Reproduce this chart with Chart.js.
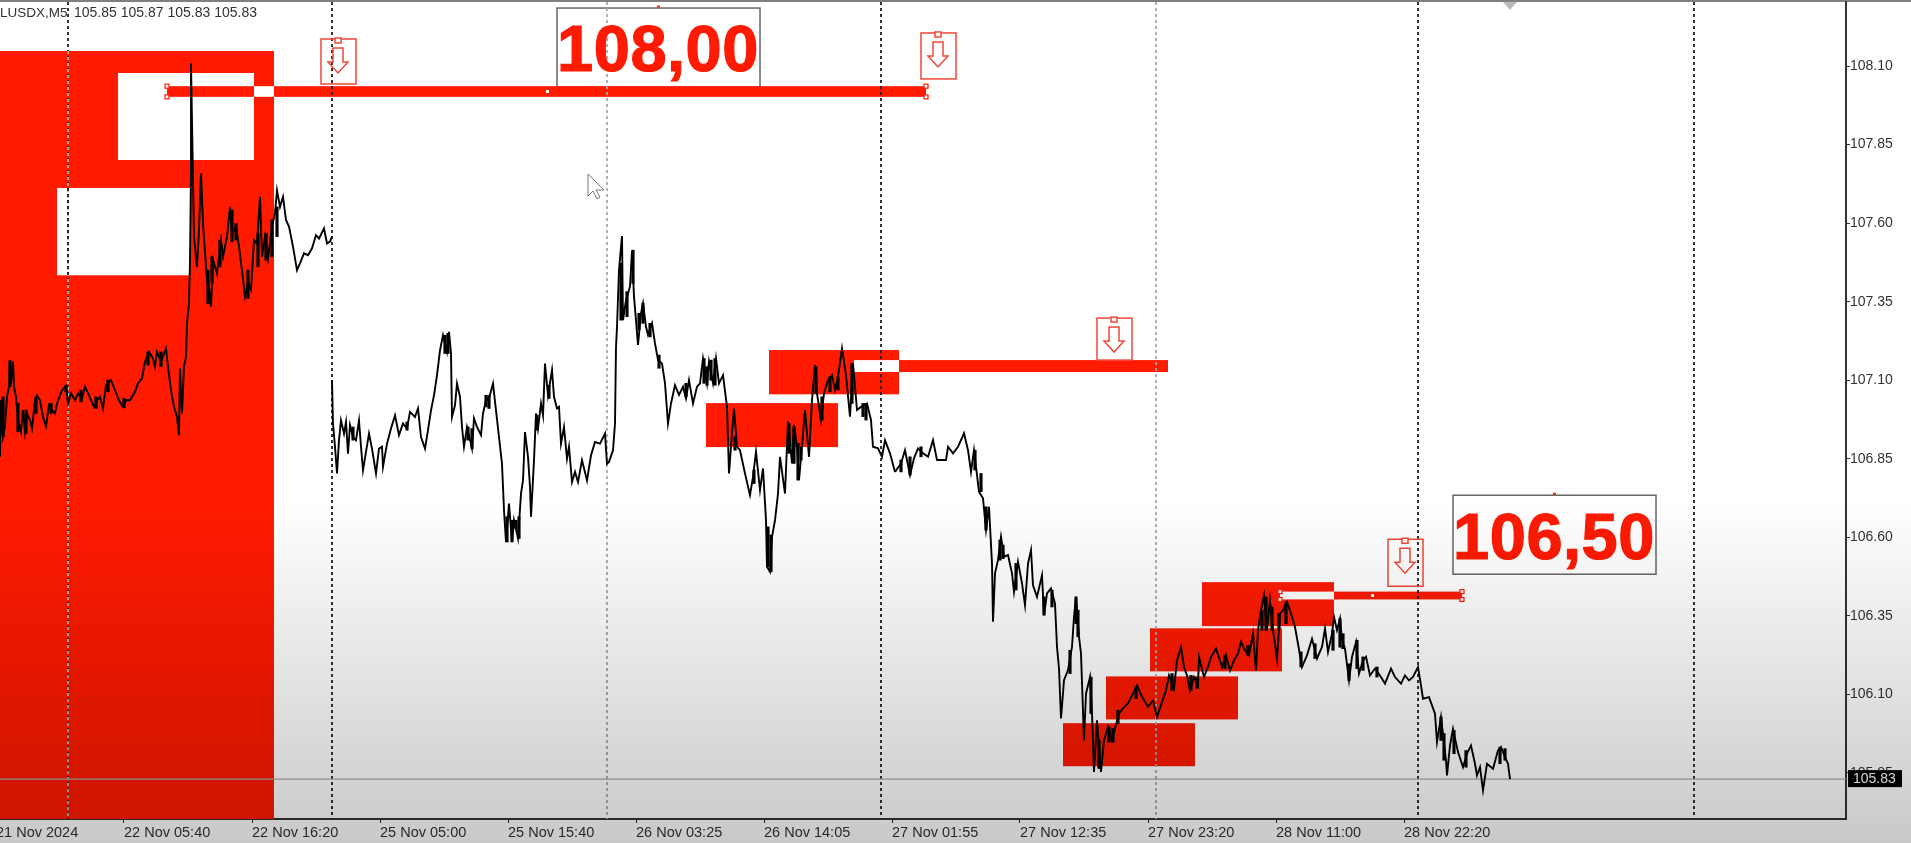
<!DOCTYPE html>
<html>
<head>
<meta charset="utf-8">
<title>USDX M5</title>
<script src="https://cdn.jsdelivr.net/npm/chart.js@4/dist/chart.umd.js"></script>
<style>
  html, body { margin: 0; padding: 0; background: #fff; overflow: hidden; }
  canvas { display: block; filter: blur(0.45px); }
</style>
</head>
<body>
<canvas id="chart" width="1911" height="843"></canvas>
<script>
// Prices. One bar on the x axis = one M5 candle.
const bars21 = [4,5,7,9,11,13,14,15,17,18,20,22,25,27,29,31,34,36,39,41,44,47,50,53,56,59,61,66,70,72,75,79,82,86,89,93,98,101,104,107,110,115,119,123,127,130,134,139,142,146,149,153,157,159,161,165,170,172,175,178,181,183,184,186,188,190,191,193,194,195,195,198,201,203,205,207,211,213,215,217,221,225,227,231,234,236,240,243,246,249,252,255,258,261,264,266,269,272,276,279,281,284,287,290,293,297,301,304,308,312,316,320,323,328,331,334,336];
const prices21 = [106.856,107.036,106.920,106.951,107.047,107.079,107.162,107.090,107.159,107.079,107.047,106.973,106.936,107.005,106.936,106.994,106.973,106.946,107.036,107.052,107.036,106.983,106.954,107.021,107.005,106.994,107.026,107.068,107.081,107.026,107.058,107.036,107.058,107.042,107.079,107.052,107.015,107.036,107.047,107.010,107.084,107.100,107.068,107.036,107.015,107.036,107.036,107.063,107.090,107.105,107.159,107.190,107.169,107.143,107.190,107.159,107.201,107.143,107.068,107.015,106.983,106.925,107.137,106.994,107.143,107.174,107.281,107.344,107.482,107.769,108.109,107.557,107.461,107.578,107.758,107.599,107.419,107.397,107.334,107.482,107.440,107.546,107.493,107.557,107.652,107.567,107.589,107.525,107.450,107.366,107.408,107.387,107.546,107.535,107.684,107.493,107.557,107.488,107.589,107.631,107.705,107.652,107.684,107.610,107.589,107.525,107.450,107.472,107.504,107.498,107.520,107.562,107.551,107.583,107.535,107.541,107.557];

const bars25 = [336,337,339,341,343,345,348,350,352,354,357,360,363,365,367,370,373,376,380,383,386,387,391,395,399,403,407,411,414,419,422,425,429,432,435,438,441,444,447,451,453,455,456,459,461,464,466,468,471,473,476,478,481,485,487,490,493,497,500,503,506,508,510,513,516,518,522,525,527,529,532,534,535,538,540,542,545,547,549,552,556,558,561,563,565,568,571,573,576,579,582,586,591,595,599,604,609,611,613,617,619,620];
const prices25 = [107.100,106.962,106.888,106.803,106.909,106.972,106.930,106.967,106.866,106.957,106.919,106.909,106.972,106.888,106.813,106.872,106.930,106.882,106.803,106.882,106.888,106.824,106.898,106.946,106.988,106.925,106.962,106.946,106.999,106.983,107.010,106.919,106.882,106.941,107.004,107.052,107.116,107.195,107.243,107.190,107.254,107.185,106.983,107.020,107.089,107.047,106.951,106.888,106.951,106.925,106.882,106.978,106.951,106.925,106.994,107.036,107.042,107.089,107.004,106.919,106.834,106.686,106.585,106.707,106.585,106.654,106.596,106.739,106.781,106.935,106.856,106.760,106.665,106.845,106.994,106.946,107.026,106.988,107.153,107.052,107.132,107.047,107.010,107.015,106.898,106.951,106.850,106.888,106.776,106.808,106.776,106.845,106.781,106.861,106.903,106.898,106.930,106.834,106.840,106.877,106.962,107.206];

const bars26 = [621,623,626,627,630,632,634,636,638,640,642,645,647,650,652,656,659,662,666,669,672,675,679,683,687,690,693,697,701,704,707,711,713,717,720,723,727,731,733,736,738,741,744,749,754,757,760,764,767,770,771,774,776,779,782,784,789,792,796,798,801,803,806,809,813,816,819,821,825,828,832,836,839,842,846,850,854,857,861,865,871,875,877,882,886,889,894,899];
const prices26 = [107.270,107.451,107.559,107.291,107.355,107.376,107.398,107.512,107.366,107.291,107.212,107.313,107.345,107.270,107.244,107.281,107.217,107.164,107.153,107.090,106.962,107.026,107.084,107.053,107.079,107.042,107.100,107.026,107.079,107.090,107.169,107.090,107.159,107.090,107.169,107.090,107.116,107.015,106.803,106.931,107.010,106.888,106.877,106.803,106.734,106.792,106.872,106.750,106.819,106.654,106.506,106.490,106.601,106.654,106.739,106.856,106.739,106.968,106.835,106.957,106.888,106.782,106.888,107.005,106.856,107.037,107.148,107.058,106.973,107.058,107.100,107.116,107.069,107.111,107.201,107.116,106.984,107.153,107.005,107.015,107.026,106.973,106.888,106.883,106.856,106.909,106.867,106.808];

const bars27 = [905,909,914,918,922,927,932,937,941,946,950,952,957,962,968,972,975,978,983,987,990,993,996,997,999,1002,1005,1008,1012,1016,1018,1022,1026,1029,1032,1035,1037,1041,1046,1048,1051,1055,1059,1061,1063,1065,1068,1072,1076,1078,1080,1083,1085,1088,1090,1094,1096,1098,1101,1105,1108,1112,1116,1119,1123,1127,1132,1137,1141,1146,1152,1157];
const prices27 = [106.835,106.877,106.798,106.851,106.883,106.867,106.856,106.909,106.846,106.846,106.846,106.888,106.867,106.888,106.931,106.877,106.808,106.877,106.745,106.724,106.623,106.697,106.516,106.331,106.485,106.527,106.601,106.538,106.543,106.485,106.426,106.522,106.453,106.384,106.516,106.559,106.447,106.410,106.479,106.352,106.421,106.437,106.389,106.251,106.182,106.023,106.145,106.177,106.251,106.347,106.410,106.283,106.230,105.954,106.102,106.155,106.039,105.853,106.017,105.853,105.954,105.996,105.954,105.991,106.039,106.055,106.071,106.102,106.129,106.092,106.060,106.081];

const bars28 = [1161,1166,1170,1173,1178,1181,1185,1188,1191,1194,1198,1202,1203,1208,1212,1215,1220,1224,1226,1230,1234,1238,1242,1245,1249,1253,1257,1260,1262,1265,1268,1271,1274,1277,1281,1284,1287,1291,1295,1299,1302,1306,1311,1316,1321,1326,1329,1332,1336,1338,1341,1344,1346,1349,1353,1356,1360,1363,1367,1370,1374,1379,1384,1389,1395,1399,1405,1409,1413,1417,1422,1425,1427,1433,1439,1441,1445,1450,1451,1454,1457,1462,1467,1471,1475,1479,1481,1484,1487,1491,1497,1502,1505,1509,1512,1514];
const prices28 = [106.028,106.075,106.113,106.160,106.118,106.208,106.251,106.187,106.160,106.113,106.155,106.129,106.219,106.155,106.187,106.219,106.245,106.208,106.187,106.224,106.176,106.208,106.229,106.267,106.240,106.224,106.293,106.176,106.304,106.367,106.415,106.304,106.399,106.304,106.214,106.357,106.367,106.394,106.357,106.314,106.261,106.187,106.224,106.277,106.214,106.251,106.309,106.235,106.293,106.346,106.304,106.341,106.272,106.245,106.144,106.219,106.266,106.166,106.208,106.219,106.160,106.182,106.160,106.134,106.182,106.155,106.134,106.160,106.144,106.155,106.187,106.128,106.086,106.091,106.038,105.948,106.028,105.890,105.842,105.937,105.990,105.916,105.868,105.911,105.937,105.879,105.842,105.868,105.794,105.879,105.863,105.921,105.932,105.900,105.879,105.830];

// high/low ranges of the places where the candles pile up into black blobs
const wickBars = [7,14,22,30,40,55,70,85,100,112,128,152,165,212,216,224,236,240,252,262,270,276,281,357,411,449,452,472,476,490,493,511,516,520,523,541,553,625,631,637,643,647,654,663,690,708,711,715,719,739,758,772,775,793,798,802,805,820,826,834,842,856,867,870,905,914,925,979,985,990,1004,1007,1020,1048,1056,1074,1080,1082,1095,1103,1113,1117,1122,1140,1176,1195,1201,1229,1252,1266,1270,1276,1283,1290,1305,1319,1337,1344,1347,1353,1361,1367,1381,1445,1448,1458,1470,1504,1509];
const wickHigh = [107.047,107.162,107.026,107.005,107.047,107.026,107.084,107.068,107.047,107.100,107.042,107.190,107.190,107.450,107.493,107.546,107.642,107.599,107.450,107.567,107.567,107.610,107.652,106.951,106.967,107.243,107.249,106.951,106.946,107.052,107.052,106.665,106.654,106.654,106.665,106.988,107.084,107.472,107.382,107.514,107.313,107.345,107.281,107.180,107.090,107.169,107.143,107.164,107.169,106.920,106.814,106.633,106.607,106.962,106.952,106.899,106.888,107.143,107.047,107.111,107.111,107.153,107.026,107.026,106.846,106.856,106.888,106.877,106.803,106.697,106.591,106.575,106.517,106.410,106.431,106.240,106.410,106.368,106.155,105.954,105.996,105.991,106.049,106.123,106.166,106.160,106.155,106.224,106.256,106.367,106.410,106.378,106.357,106.394,106.235,106.261,106.304,106.341,106.293,106.197,106.272,106.219,106.187,106.028,105.975,105.985,105.921,105.932,105.927];
const wickLow = [106.920,107.079,106.936,106.930,106.994,106.994,107.063,107.031,107.010,107.063,107.013,107.148,107.143,107.344,107.408,107.461,107.541,107.546,107.360,107.461,107.482,107.493,107.557,106.909,106.941,107.185,107.185,106.909,106.882,107.015,107.010,106.585,106.585,106.627,106.596,106.941,107.042,107.291,107.302,107.408,107.260,107.281,107.238,107.138,107.047,107.090,107.084,107.100,107.084,106.877,106.771,106.506,106.490,106.867,106.835,106.782,106.846,107.058,106.973,107.063,107.069,107.026,106.984,106.973,106.808,106.798,106.856,106.814,106.745,106.623,106.527,106.532,106.432,106.352,106.378,106.166,106.325,106.283,106.039,105.864,105.948,105.948,106.007,106.086,106.113,106.113,106.118,106.182,106.224,106.304,106.304,106.304,106.309,106.325,106.187,106.214,106.240,106.250,106.245,106.144,106.182,106.176,106.155,105.953,105.890,105.911,105.868,105.879,105.890];

const yMin = 105.703;
const yMax = 108.304;
const xMin = 4;
const xMax = 1850;
const lastPrice = 105.83;

const yTicks = [108.10,107.85,107.60,107.35,107.10,106.85,106.60,106.35,106.10,105.85];
const xTicks = [0,128,256,384,512,640,768,896,1024,1152,1280,1408];
const xLabels = ['21 Nov 2024','22 Nov 05:40','22 Nov 16:20','25 Nov 05:00','25 Nov 15:40','26 Nov 03:25','26 Nov 14:05','27 Nov 01:55','27 Nov 12:35','27 Nov 23:20','28 Nov 11:00','28 Nov 22:20'];

// day separators
const sepBars = [72,336,611,885,1160,1422,1698];
const sepGrey = [false,false,true,false,true,false,false];

// red zones: first one is the big block down to the bottom of the chart
const zoneFrom = [4,773,710,1067,1110,1154,1206];
const zoneTo = [278,903,842,1199,1242,1286,1338];
const zoneTop = [108.148,107.196,107.027,106.008,106.157,106.310,106.457];
const zoneBottom = [yMin,107.055,106.887,105.871,106.020,106.173,106.317];

// white cut outs in the big block
const holeFrom = [122,61];
const holeTo = [258,194];
const holeTop = [108.078,107.712];
const holeBottom = [107.801,107.434];

// horizontal level bars
const levelFrom = [171,903,1338];
const levelTo = [930,1172,1466];
const levelTop = [108.036,107.164,106.427];
const levelBottom = [108.002,107.126,106.402];

// part of each level where it runs over a red zone and turns white
const gapFrom = [258,858,1284];
const gapTo = [278,903,1338];

// sell arrows, anchored at the bottom of the small box
const arrowBars = [342,942,1118,1409];
const arrowPrices = [108.043,108.059,107.164,106.444];

const boxTexts = ['108,00','106,50'];
const boxBars = [662,1558];
const boxPrices = [108.159,106.608];

const headerText = 'LUSDX,M5';
const headerOhlc = ['105.85','105.87','105.83','105.83'];

const RED = '#ff1a00';
const FONT = '"Liberation Sans", Arial, sans-serif';

function toPoints(xs, ys) {
    return xs.map((x, i) => ({ x: x, y: ys[i] }));
}

function fillBox(ctx, sx, sy, from, to, top, bottom, color) {
    const x1 = sx.getPixelForValue(from);
    const x2 = sx.getPixelForValue(to);
    const y1 = sy.getPixelForValue(top);
    const y2 = sy.getPixelForValue(bottom);
    ctx.fillStyle = color;
    ctx.fillRect(x1, y1, x2 - x1, y2 - y1);
}

function vLine(ctx, x, y1, y2, color) {
    ctx.save();
    ctx.strokeStyle = color;
    ctx.lineWidth = 1.8;
    ctx.setLineDash([3, 3]);
    ctx.beginPath();
    ctx.moveTo(x, y1);
    ctx.lineTo(x, y2);
    ctx.stroke();
    ctx.restore();
}

function drawArrow(ctx, cx, bottom, h) {
    const top = bottom - h;
    ctx.save();
    ctx.strokeStyle = '#f0483a';
    ctx.lineWidth = 1.5;
    ctx.fillStyle = '#fff';
    ctx.strokeRect(cx - 17, top, 35, h);
    ctx.fillRect(cx - 3, top - 1, 6, 5);
    ctx.strokeRect(cx - 3, top - 1, 6, 5);
    const a = top + 9;
    ctx.beginPath();
    ctx.moveTo(cx - 5, a);
    ctx.lineTo(cx + 5, a);
    ctx.lineTo(cx + 5, a + 14);
    ctx.lineTo(cx + 10, a + 14);
    ctx.lineTo(cx, a + 25);
    ctx.lineTo(cx - 10, a + 14);
    ctx.lineTo(cx - 5, a + 14);
    ctx.closePath();
    ctx.stroke();
    ctx.restore();
}

function drawHandle(ctx, x, y) {
    ctx.fillStyle = '#fff';
    ctx.strokeStyle = RED;
    ctx.lineWidth = 1.2;
    ctx.fillRect(x - 2, y - 2, 4, 4);
    ctx.strokeRect(x - 2, y - 2, 4, 4);
}

// zones and separators go under the price line
const underlay = {
    id: 'underlay',
    beforeDatasetsDraw(chart) {
        const { ctx, scales: { x, y }, chartArea } = chart;
        ctx.save();

        // text boxes first, the level bars cover their lower edge
        boxTexts.forEach((t, i) => {
            const cx = x.getPixelForValue(boxBars[i]);
            const cy = y.getPixelForValue(boxPrices[i]);
            ctx.fillStyle = '#fff';
            ctx.strokeStyle = '#666';
            ctx.lineWidth = 1.5;
            ctx.fillRect(cx - 101, cy - 39.5, 203, 79);
            ctx.strokeRect(cx - 101, cy - 39.5, 203, 79);
            ctx.fillStyle = RED;
            ctx.fillRect(cx - 1, cy - 42, 3, 2);
        });

        zoneFrom.forEach((f, i) => fillBox(ctx, x, y, f, zoneTo[i], zoneTop[i], zoneBottom[i], RED));
        holeFrom.forEach((f, i) => fillBox(ctx, x, y, f, holeTo[i], holeTop[i], holeBottom[i], '#fff'));
        levelFrom.forEach((f, i) => fillBox(ctx, x, y, f, levelTo[i], levelTop[i], levelBottom[i], RED));
        gapFrom.forEach((f, i) => fillBox(ctx, x, y, f, gapTo[i], levelTop[i], levelBottom[i], '#fff'));

        // grab handles on the levels
        levelFrom.forEach((f, i) => {
            const yTop = y.getPixelForValue(levelTop[i]);
            const yBot = y.getPixelForValue(levelBottom[i]);
            const x2 = x.getPixelForValue(levelTo[i]);
            if (i !== 1) {
                const x1 = x.getPixelForValue(i === 0 ? f : gapFrom[i]);
                drawHandle(ctx, x1, yTop);
                drawHandle(ctx, x1, yBot);
                drawHandle(ctx, x2, yTop);
                drawHandle(ctx, x2, yBot);
                ctx.fillStyle = '#fff';
                ctx.fillRect((i === 0 ? 546 : 1371), (yTop + yBot) / 2 - 1.5, 3, 3);
            }
        });

        // separators
        sepBars.forEach((b, i) => {
            const px = x.getPixelForValue(b);
            vLine(ctx, px, chartArea.top, chartArea.bottom, sepGrey[i] ? '#a8a8a8' : '#1c1c1c');
        });
        // first separator shows pale over the red block, dark on the white cut out
        const px0 = x.getPixelForValue(sepBars[0]);
        vLine(ctx, px0, y.getPixelForValue(zoneTop[0]), chartArea.bottom, '#b9b9a8');
        vLine(ctx, px0, y.getPixelForValue(holeTop[1]), y.getPixelForValue(holeBottom[1]), '#1c1c1c');

        // last price line
        const ly = y.getPixelForValue(lastPrice);
        ctx.strokeStyle = '#a9a9a9';
        ctx.lineWidth = 1.2;
        ctx.beginPath();
        ctx.moveTo(chartArea.left, ly);
        ctx.lineTo(chartArea.right, ly);
        ctx.stroke();

        ctx.restore();
    },
    afterDatasetsDraw(chart) {
        const { ctx, scales: { x, y } } = chart;
        ctx.save();

        // the numbers in the boxes
        ctx.fillStyle = RED;
        ctx.strokeStyle = RED;
        ctx.lineWidth = 1.2;
        ctx.font = 'bold 65px ' + FONT;
        ctx.letterSpacing = '0.5px';
        ctx.textAlign = 'center';
        ctx.textBaseline = 'middle';
        boxTexts.forEach((t, i) => {
            const bx = x.getPixelForValue(boxBars[i]);
            const by = y.getPixelForValue(boxPrices[i]) + 6;
            ctx.fillText(t, bx, by);
            ctx.strokeText(t, bx, by);
        });
        ctx.letterSpacing = '0px';

        const heights = [45, 46, 42, 47];
        arrowBars.forEach((b, i) => {
            drawArrow(ctx, x.getPixelForValue(b), y.getPixelForValue(arrowPrices[i]), heights[i]);
        });

        // header line
        ctx.fillStyle = '#333';
        ctx.font = '13.5px ' + FONT;
        ctx.textAlign = 'left';
        ctx.textBaseline = 'middle';
        ctx.fillText(headerText, 0, 13);
        ctx.font = '14px ' + FONT;
        ctx.fillText(headerOhlc.join(' '), 74, 13);

        // mouse pointer
        ctx.strokeStyle = '#777';
        ctx.fillStyle = '#fff';
        ctx.lineWidth = 1;
        ctx.beginPath();
        ctx.moveTo(588, 174);
        ctx.lineTo(588, 196);
        ctx.lineTo(593, 191);
        ctx.lineTo(597, 199);
        ctx.lineTo(600, 197);
        ctx.lineTo(596, 190);
        ctx.lineTo(604, 190);
        ctx.closePath();
        ctx.fill();
        ctx.stroke();

        // frame
        ctx.strokeStyle = '#555';
        ctx.lineWidth = 1.5;
        ctx.beginPath();
        ctx.moveTo(0, 1);
        ctx.lineTo(1911, 1);
        ctx.stroke();
        ctx.fillStyle = '#bbb';
        ctx.beginPath();
        ctx.moveTo(1503, 2);
        ctx.lineTo(1517, 2);
        ctx.lineTo(1510, 10);
        ctx.closePath();
        ctx.fill();

        ctx.restore();
    },
    afterDraw(chart) {
        const { ctx, scales: { y }, chartArea, width, height } = chart;
        ctx.save();

        // black tag with the last price
        const ly = y.getPixelForValue(lastPrice);
        ctx.fillStyle = '#000';
        ctx.fillRect(chartArea.right + 2, ly - 9, 54, 17);
        ctx.fillStyle = '#fff';
        ctx.font = '14px ' + FONT;
        ctx.textAlign = 'left';
        ctx.textBaseline = 'middle';
        ctx.fillText(lastPrice.toFixed(2), chartArea.right + 7, ly);

        // the picture fades to grey towards the bottom
        const g = ctx.createLinearGradient(0, 500, 0, height);
        g.addColorStop(0, 'rgba(0,0,0,0)');
        g.addColorStop(1, 'rgba(0,0,0,0.21)');
        ctx.fillStyle = g;
        ctx.fillRect(0, 500, width, height - 500);

        ctx.restore();
    }
};

const lineStyle = {
    type: 'line',
    borderColor: '#000',
    borderWidth: 1.9,
    borderJoinStyle: 'miter',
    pointRadius: 0,
    tension: 0,
    fill: false,
    clip: false
};

// the library pads the axes for their outer labels, the plot has to touch the window edge
function noPadding(axis) {
    axis.paddingLeft = 0;
    axis.paddingRight = 0;
    axis.paddingTop = 0;
    axis.paddingBottom = 0;
}

new Chart(document.getElementById('chart').getContext('2d'), {
    type: 'line',
    data: {
        datasets: [
            Object.assign({ label: '21-22 Nov', data: toPoints(bars21, prices21) }, lineStyle),
            Object.assign({ label: '25 Nov', data: toPoints(bars25, prices25) }, lineStyle),
            Object.assign({ label: '26 Nov', data: toPoints([620].concat(bars26), [107.206].concat(prices26)) }, lineStyle),
            Object.assign({ label: '27 Nov', data: toPoints([899].concat(bars27), [106.808].concat(prices27)) }, lineStyle),
            Object.assign({ label: '28 Nov', data: toPoints([1157].concat(bars28), [106.081].concat(prices28)) }, lineStyle),
            {
                type: 'bar',
                label: 'high/low',
                data: wickBars.map((b, i) => ({ x: b, y: [wickLow[i], wickHigh[i]] })),
                backgroundColor: '#000',
                barThickness: 2.5,
                grouped: false
            }
        ]
    },
    options: {
        responsive: false,
        animation: false,
        devicePixelRatio: 1,
        layout: { padding: { top: 2, left: 0, right: 0, bottom: 0 } },
        plugins: { legend: { display: false }, title: { display: false }, tooltip: { enabled: false } },
        scales: {
            x: {
                type: 'linear',
                offset: false,
                min: xMin,
                max: xMax,
                afterBuildTicks: axis => { axis.ticks = xTicks.map(v => ({ value: v })); },
                afterFit: axis => { axis.height = 24; noPadding(axis); },
                border: { display: true, color: '#333', width: 2 },
                grid: { offset: false, drawOnChartArea: false, drawTicks: true, tickLength: 4, color: '#333' },
                ticks: {
                    autoSkip: false,
                    maxRotation: 0,
                    align: 'start',
                    padding: 1,
                    color: '#333',
                    font: { family: FONT, size: 14.5 },
                    callback: value => xLabels[xTicks.indexOf(value)]
                }
            },
            y: {
                type: 'linear',
                position: 'right',
                min: yMin,
                max: yMax,
                afterBuildTicks: axis => { axis.ticks = yTicks.map(v => ({ value: v })); },
                afterFit: axis => { axis.width = 65; noPadding(axis); },
                border: { display: true, color: '#333', width: 2 },
                grid: { drawOnChartArea: false, drawTicks: true, tickLength: 4, color: '#333' },
                ticks: {
                    autoSkip: false,
                    padding: 0,
                    color: '#333',
                    font: { family: FONT, size: 14 },
                    callback: value => value.toFixed(2)
                }
            }
        }
    },
    plugins: [underlay]
});
</script>
</body>
</html>
